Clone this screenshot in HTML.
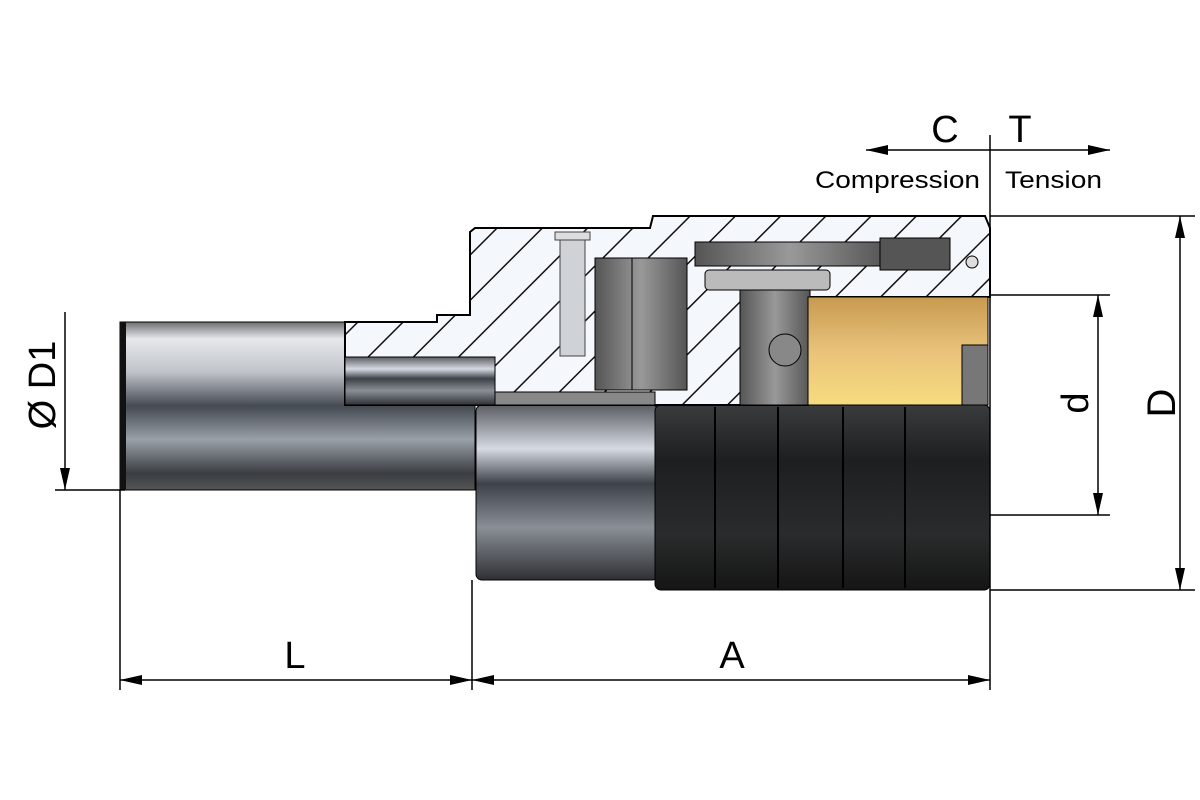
<!DOCTYPE html>
<html><head><style>body{margin:0;background:#fff}svg{display:block}</style></head><body>
<svg width="1200" height="800" viewBox="0 0 1200 800" xmlns="http://www.w3.org/2000/svg" font-family="Liberation Sans, sans-serif">
<defs>
<pattern id="h" patternUnits="userSpaceOnUse" width="32" height="32" patternTransform="rotate(45)">
<rect width="32" height="32" fill="#f4f7fb"/><line x1="0" y1="0" x2="0" y2="32" stroke="#111" stroke-width="3"/></pattern>
<linearGradient id="sh" x1="0" y1="0" x2="0" y2="1">
<stop offset="0" stop-color="#6c6e72"/><stop offset="0.1" stop-color="#e6e8ec"/><stop offset="0.3" stop-color="#bfc3c8"/><stop offset="0.5" stop-color="#454a52"/><stop offset="0.7" stop-color="#9aa0a8"/><stop offset="0.9" stop-color="#3a3d42"/><stop offset="1" stop-color="#555"/></linearGradient>
<linearGradient id="sh2" x1="0" y1="0" x2="0" y2="1">
<stop offset="0" stop-color="#5a5d62"/><stop offset="0.25" stop-color="#d6dae2"/><stop offset="0.45" stop-color="#3d4148"/><stop offset="0.7" stop-color="#8a8f96"/><stop offset="1" stop-color="#2e3034"/></linearGradient>
<linearGradient id="dk" x1="0" y1="0" x2="0" y2="1">
<stop offset="0" stop-color="#3a3b3d"/><stop offset="0.3" stop-color="#1e1f20"/><stop offset="0.7" stop-color="#2a2b2c"/><stop offset="1" stop-color="#151515"/></linearGradient>
<linearGradient id="gd" x1="0" y1="0" x2="0" y2="1">
<stop offset="0" stop-color="#c79a50"/><stop offset="0.5" stop-color="#e9c27a"/><stop offset="1" stop-color="#f6dc80"/></linearGradient>
<linearGradient id="gr" x1="0" y1="0" x2="1" y2="0">
<stop offset="0" stop-color="#555"/><stop offset="0.5" stop-color="#999"/><stop offset="1" stop-color="#555"/></linearGradient>
<marker id="ar" markerWidth="24" markerHeight="12" refX="22" refY="6" orient="auto-start-reverse" markerUnits="userSpaceOnUse"><path d="M0,1 L22,6 L0,11 Z" fill="#000"/></marker>
</defs>
<rect x="120" y="322" width="355" height="168" fill="url(#sh)" stroke="#000" stroke-width="1"/>
<rect x="120" y="322" width="6" height="168" fill="#111"/>
<rect x="476" y="405" width="182" height="175" rx="6" fill="url(#sh2)" stroke="#000"/>
<rect x="655" y="405" width="335" height="185" rx="6" fill="url(#dk)" stroke="#000"/>
<g stroke="#000" stroke-width="2"><line x1="715" y1="407" x2="715" y2="588"/><line x1="778" y1="407" x2="778" y2="588"/><line x1="843" y1="407" x2="843" y2="588"/><line x1="905" y1="407" x2="905" y2="588"/></g>
<path d="M345,322 L437,322 L437,315 L470,315 L470,232 L475,228 L650,228 L653,216 L985,216 L990,228 L990,297 L808,297 L808,405 L345,405 Z" fill="url(#h)" stroke="#000" stroke-width="2"/>
<rect x="345" y="357" width="150" height="48" fill="url(#sh2)" stroke="#000"/>
<rect x="495" y="392" width="160" height="13" fill="#888" stroke="#000"/>
<rect x="560" y="236" width="25" height="120" fill="#cfd2d6" stroke="#444"/>
<rect x="555" y="232" width="35" height="8" fill="#ddd" stroke="#444"/>
<rect x="595" y="258" width="92" height="132" fill="url(#gr)" stroke="#000"/>
<line x1="632" y1="258" x2="632" y2="390" stroke="#000"/>
<rect x="695" y="242" width="190" height="24" fill="url(#gr)" stroke="#000"/>
<rect x="880" y="238" width="70" height="32" fill="#555" stroke="#000"/>
<circle cx="972" cy="262" r="6" fill="#ddd" stroke="#000"/>
<rect x="705" y="270" width="125" height="20" rx="4" fill="#bbb" stroke="#000"/>
<rect x="740" y="290" width="70" height="115" fill="url(#gr)" stroke="#000"/>
<circle cx="785" cy="350" r="16" fill="#888" stroke="#000"/>
<rect x="808" y="297" width="180" height="108" fill="url(#gd)" stroke="#000"/>
<rect x="962" y="345" width="26" height="60" fill="#777" stroke="#000"/>
<g stroke="#000" stroke-width="1.5" fill="none">
<line x1="990" y1="135" x2="990" y2="690"/>
<line x1="990" y1="150" x2="866" y2="150" marker-end="url(#ar)"/>
<line x1="990" y1="150" x2="1110" y2="150" marker-end="url(#ar)"/>
<line x1="990" y1="216" x2="1195" y2="216"/>
<line x1="990" y1="590" x2="1195" y2="590"/>
<line x1="1180" y1="216" x2="1180" y2="590" marker-start="url(#ar)" marker-end="url(#ar)"/>
<line x1="990" y1="295" x2="1110" y2="295"/>
<line x1="990" y1="515" x2="1110" y2="515"/>
<line x1="1098" y1="295" x2="1098" y2="515" marker-start="url(#ar)" marker-end="url(#ar)"/>
<line x1="65" y1="312" x2="65" y2="490" marker-end="url(#ar)"/>
<line x1="55" y1="490" x2="125" y2="490"/>
<line x1="120" y1="490" x2="120" y2="690"/>
<line x1="472" y1="580" x2="472" y2="690"/>
<line x1="120" y1="680" x2="472" y2="680" marker-start="url(#ar)" marker-end="url(#ar)"/>
<line x1="472" y1="680" x2="990" y2="680" marker-start="url(#ar)" marker-end="url(#ar)"/>
</g>
<g fill="#000">
<text x="945" y="142" font-size="38" text-anchor="middle">C</text>
<text x="1020" y="142" font-size="38" text-anchor="middle">T</text>
<text x="815" y="188" font-size="24" textLength="165" lengthAdjust="spacingAndGlyphs">Compression</text>
<text x="1005" y="188" font-size="24" textLength="97" lengthAdjust="spacingAndGlyphs">Tension</text>
<text x="295" y="668" font-size="38" text-anchor="middle">L</text>
<text x="732" y="668" font-size="38" text-anchor="middle">A</text>
<text transform="translate(1175,403) rotate(-90)" font-size="40" text-anchor="middle">D</text>
<text transform="translate(1088,403) rotate(-90)" font-size="38" text-anchor="middle">d</text>
<text transform="translate(55,385) rotate(-90)" font-size="38" text-anchor="middle">Ø D1</text>
</g>
</svg>
</body></html>
